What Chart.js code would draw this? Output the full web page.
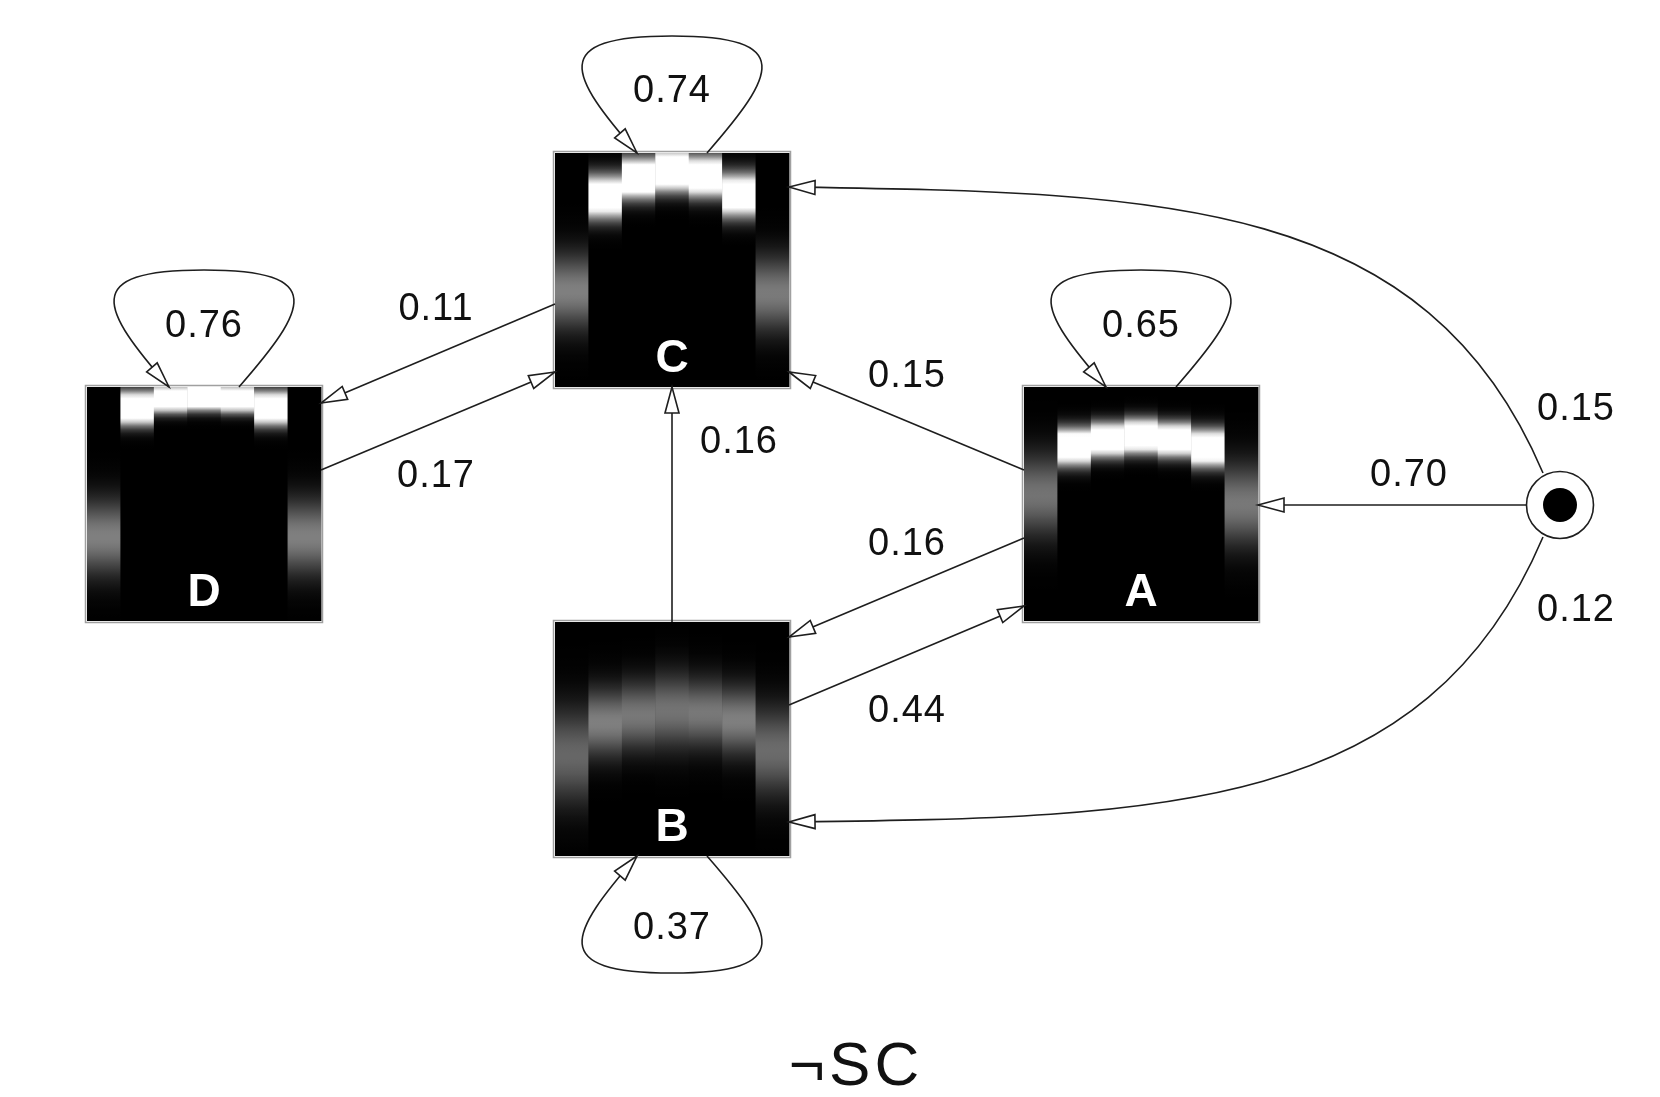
<!DOCTYPE html>
<html>
<head>
<meta charset="utf-8">
<script src="https://cdn.jsdelivr.net/npm/chart.js@4.4.1/dist/chart.umd.min.js"></script>
<style>
  html, body { margin: 0; padding: 0; background: #fff; }
  #wrap { width: 1660px; height: 1097px; position: relative; }
</style>
</head>
<body>
<div id="wrap"><canvas id="canvas1"></canvas></div>
<script>
// states, self transitions, start transitions
const states = ['A', 'B', 'C', 'D'];
const selfProb = [0.65, 0.37, 0.74, 0.76];
const startTo = ['A', 'C', 'B'];
const startProb = [0.70, 0.15, 0.12];

// transitions between states
const transFrom = ['C', 'D', 'B', 'A', 'A', 'B'];
const transTo   = ['D', 'C', 'C', 'C', 'B', 'A'];
const transProb = [0.11, 0.17, 0.16, 0.15, 0.16, 0.44];

// emission profile of each state, 7 columns: centre (0 = top), spread, peak level
const meanA   = [0.46, 0.255, 0.225, 0.21, 0.225, 0.26, 0.50];
const spreadA = [0.12, 0.05, 0.045, 0.045, 0.045, 0.05, 0.12];
const peakA   = [0.45, 1.8, 1.9, 2.0, 1.9, 1.8, 0.47];

const meanB   = [0.57, 0.43, 0.40, 0.38, 0.39, 0.42, 0.55];
const spreadB = [0.14, 0.10, 0.10, 0.11, 0.10, 0.10, 0.13];
const peakB   = [0.40, 0.50, 0.47, 0.45, 0.47, 0.50, 0.42];

const meanC   = [0.59, 0.187, 0.107, 0.075, 0.10, 0.18, 0.60];
const spreadC = [0.11, 0.06, 0.055, 0.055, 0.055, 0.06, 0.11];
const peakC   = [0.50, 1.6, 1.8, 2.0, 1.8, 1.6, 0.48];

const meanD   = [0.64, 0.09, 0.05, 0.04, 0.05, 0.09, 0.64];
const spreadD = [0.11, 0.045, 0.035, 0.035, 0.035, 0.045, 0.11];
const peakD   = [0.50, 1.9, 2.1, 2.2, 2.1, 1.9, 0.50];

const chartTitle = '¬SC';

// ---- layout (data units = pixels) ----
const boxSize = 234;
const nodePos = { A: [1141, 504], B: [672, 739], C: [672, 270], D: [204, 504] };
const startPos = [1560, 505];
const loopSide = { A: -1, B: 1, C: -1, D: -1 };
const edgePorts = [
  [[-117, 34], [117, -101]],
  [[117, -34], [-117, 102]],
  [[0, -117], [0, 117]],
  [[-117, -34], [117, 102]],
  [[-117, 34], [117, -102]],
  [[117, -34], [-117, 102]]
];
const selfLabelPos = { A: [1141, 327], B: [672, 929], C: [672, 92], D: [204, 327] };
const transLabelPos = [[436, 310], [436, 477], [739, 443], [907, 377], [907, 545], [907, 712]];
const startLabelPos = [[1409, 476], [1576, 410], [1576, 611]];

const profiles = {
  A: [meanA, spreadA, peakA],
  B: [meanB, spreadB, peakB],
  C: [meanC, spreadC, peakC],
  D: [meanD, spreadD, peakD]
};

const lineCol = '#1e1e1e';
const labelFont = '38px "Liberation Sans", Arial, sans-serif';

function arrowHead(ctx, x, y, ang) {
  ctx.save();
  ctx.translate(x, y);
  ctx.rotate(ang);
  ctx.beginPath();
  ctx.moveTo(0, 0);
  ctx.lineTo(-26, -7);
  ctx.lineTo(-26, 7);
  ctx.closePath();
  ctx.fillStyle = '#fff';
  ctx.fill();
  ctx.stroke();
  ctx.restore();
}

const diagram = {
  id: 'diagram',
  beforeDatasetsDraw(chart) {
    const ctx = chart.ctx;
    const xs = chart.scales.x, ys = chart.scales.y;
    const P = (x, y) => [xs.getPixelForValue(x), ys.getPixelForValue(y)];
    const half = boxSize / 2;

    // state boxes
    states.forEach(s => {
      const [cx, cy] = nodePos[s];
      const [x0, y0] = P(cx - half, cy - half);
      const [x1, y1] = P(cx + half, cy + half);
      const w = x1 - x0, h = y1 - y0, cw = w / 7;
      const [mean, spread, peak] = profiles[s];
      ctx.fillStyle = '#000';
      ctx.fillRect(x0, y0, w, h);
      for (let i = 0; i < 7; i++) {
        const g = ctx.createLinearGradient(0, y0, 0, y1);
        for (let k = 0; k <= 60; k++) {
          const f = k / 60;
          const v = Math.min(1, peak[i] * Math.exp(-Math.pow(f - mean[i], 2) / (2 * spread[i] * spread[i])));
          const c = Math.round(v * 255);
          g.addColorStop(f, 'rgb(' + c + ',' + c + ',' + c + ')');
        }
        ctx.fillStyle = g;
        ctx.fillRect(x0 + i * cw, y0, cw + 0.5, h);
      }
      ctx.strokeStyle = '#a0a0a0';
      ctx.lineWidth = 1.5;
      ctx.strokeRect(x0 - 1.5, y0 - 1.5, w + 3, h + 3);
      ctx.fillStyle = '#fff';
      ctx.font = 'bold 46px "Liberation Sans", Arial, sans-serif';
      ctx.textAlign = 'center';
      ctx.textBaseline = 'alphabetic';
      ctx.fillText(s, x0 + w / 2, y1 - 15);
    });

    ctx.strokeStyle = lineCol;
    ctx.lineWidth = 1.6;

    // self loops
    states.forEach(s => {
      const [cx, cy] = nodePos[s];
      const d = loopSide[s];
      const e = cy + d * half;
      const pts = [
        P(cx + 35, e), P(cx + 103, e + d * 78), P(cx + 125, e + d * 117), P(cx, e + d * 117),
        P(cx - 125, e + d * 117), P(cx - 103, e + d * 78), P(cx - 35, e)
      ];
      ctx.beginPath();
      ctx.moveTo(pts[0][0], pts[0][1]);
      ctx.bezierCurveTo(pts[1][0], pts[1][1], pts[2][0], pts[2][1], pts[3][0], pts[3][1]);
      ctx.bezierCurveTo(pts[4][0], pts[4][1], pts[5][0], pts[5][1], pts[6][0], pts[6][1]);
      ctx.stroke();
      arrowHead(ctx, pts[6][0], pts[6][1], Math.atan2(pts[6][1] - pts[5][1], pts[6][0] - pts[5][0]));
    });

    // straight transitions
    transFrom.forEach((f, i) => {
      const a = nodePos[f], b = nodePos[transTo[i]];
      const [p0, p1] = edgePorts[i];
      const s0 = P(a[0] + p0[0], a[1] + p0[1]);
      const s1 = P(b[0] + p1[0], b[1] + p1[1]);
      ctx.beginPath();
      ctx.moveTo(s0[0], s0[1]);
      ctx.lineTo(s1[0], s1[1]);
      ctx.stroke();
      arrowHead(ctx, s1[0], s1[1], Math.atan2(s1[1] - s0[1], s1[0] - s0[0]));
    });

    // start transitions
    const [sx, sy] = startPos;
    // to A
    let a0 = P(sx - 34, sy), a1 = P(nodePos.A[0] + half, sy);
    ctx.beginPath();
    ctx.moveTo(a0[0], a0[1]);
    ctx.lineTo(a1[0], a1[1]);
    ctx.stroke();
    arrowHead(ctx, a1[0], a1[1], Math.PI);
    // to C and to B (curved)
    [[nodePos.C, -1], [nodePos.B, 1]].forEach(([n, d]) => {
      const q0 = P(sx - 17, sy + d * 32);
      const q1 = P(1425, sy + d * 310);
      const q2 = P(1160, sy + d * 312);
      const q3 = P(n[0] + half, n[1] + d * 83);
      ctx.beginPath();
      ctx.moveTo(q0[0], q0[1]);
      ctx.bezierCurveTo(q1[0], q1[1], q2[0], q2[1], q3[0], q3[1]);
      ctx.stroke();
      arrowHead(ctx, q3[0], q3[1], Math.atan2(q3[1] - q2[1], q3[0] - q2[0]));
    });

    // probability labels
    ctx.fillStyle = '#111';
    ctx.font = labelFont;
    ctx.letterSpacing = '1px';
    ctx.textAlign = 'center';
    ctx.textBaseline = 'middle';
    states.forEach((s, i) => {
      const p = P(selfLabelPos[s][0], selfLabelPos[s][1]);
      ctx.fillText(selfProb[i].toFixed(2), p[0], p[1]);
    });
    transProb.forEach((v, i) => {
      const p = P(transLabelPos[i][0], transLabelPos[i][1]);
      ctx.fillText(v.toFixed(2), p[0], p[1]);
    });
    startProb.forEach((v, i) => {
      const p = P(startLabelPos[i][0], startLabelPos[i][1]);
      ctx.fillText(v.toFixed(2), p[0], p[1]);
    });

    // title below
    const t = P(856, 1085);
    ctx.font = '62px "Liberation Sans", Arial, sans-serif';
    ctx.letterSpacing = '4px';
    ctx.textBaseline = 'alphabetic';
    ctx.fillText(chartTitle, t[0], t[1]);
    ctx.letterSpacing = '0px';
  }
};

let myChart = document.getElementById('canvas1').getContext('2d');
let diagramChart = new Chart(myChart, {
  type: 'scatter',
  data: {
    datasets: [
      {
        data: [{ x: startPos[0], y: startPos[1] }],
        pointRadius: 17,
        pointBackgroundColor: '#000',
        pointBorderWidth: 0
      },
      {
        data: [{ x: startPos[0], y: startPos[1] }],
        pointRadius: 33.5,
        pointBackgroundColor: '#fff',
        pointBorderColor: lineCol,
        pointBorderWidth: 1.6
      }
    ]
  },
  options: {
    responsive: true,
    maintainAspectRatio: false,
    animation: false,
    events: [],
    layout: { padding: 0, autoPadding: false },
    scales: {
      x: { type: 'linear', min: 0, max: 1660, display: false },
      y: { type: 'linear', min: 0, max: 1097, reverse: true, display: false }
    },
    plugins: {
      legend: { display: false },
      tooltip: { enabled: false }
    }
  },
  plugins: [diagram]
});
</script>
</body>
</html>
